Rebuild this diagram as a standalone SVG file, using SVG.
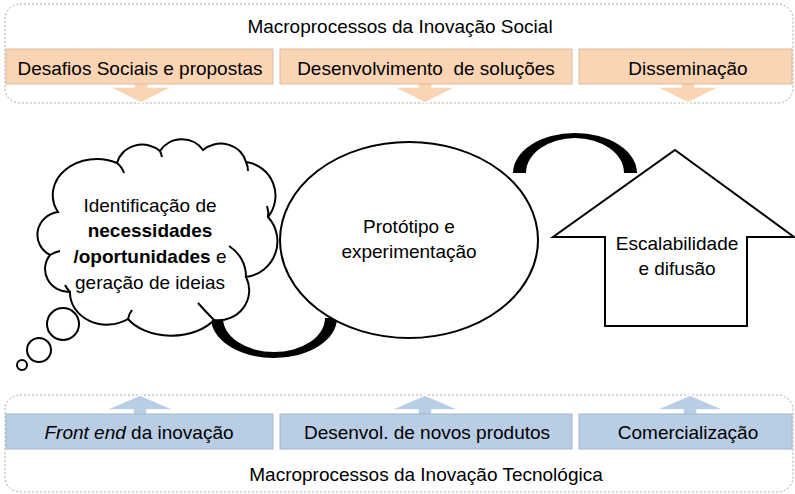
<svg xmlns="http://www.w3.org/2000/svg" width="795" height="494" viewBox="0 0 795 494">
<style>
text{font-family:"Liberation Sans",Arial,sans-serif;font-size:19px;fill:#000}
.c{text-anchor:middle}
.frame{fill:none;stroke:#A6A6A6;stroke-width:1;stroke-dasharray:2 2}
.ob{fill:#FBD4B4;stroke:#D8BCA6;stroke-width:1}
.bb{fill:#B9CDE5;stroke:#A3B6CC;stroke-width:1}
.oa{fill:#FBD4B4;stroke:#fff;stroke-width:1.5}
.ba{fill:#B9CDE5;stroke:#fff;stroke-width:1.5}
.sh{fill:#fff;stroke:#000;stroke-width:2}
.ln{fill:none;stroke:#000;stroke-width:2}
.arc{fill:#000}
</style>

<g id="social">
<rect class="frame" x="5" y="4" width="788" height="99" rx="15"/>
<text class="c" x="400" y="33">Macroprocessos da Inovação Social</text>
</g>
<g id="arrows-top">
<path class="oa" d="M134,78 H148 V87 H173 L141,103 L109,87 H134 Z"/>
<path class="oa" d="M418,78 H432 V87 H457 L425,103 L393,87 H418 Z"/>
<path class="oa" d="M681,78 H695 V87 H720 L688,103 L656,87 H681 Z"/>
</g>
<g id="desafios">
<rect class="ob" x="6" y="49" width="267" height="35"/>
<text class="c" x="140" y="75">Desafios Sociais e propostas</text>
</g>
<g id="desenvolvimento">
<rect class="ob" x="280" y="49" width="292" height="35"/>
<text class="c" x="426" y="75" xml:space="preserve">Desenvolvimento  de soluções</text>
</g>
<g id="disseminacao">
<rect class="ob" x="579" y="49" width="213" height="35"/>
<text class="c" x="688" y="75">Disseminação</text>
</g>

<g id="tecnologica">
<rect class="frame" x="5" y="395" width="788" height="97" rx="15"/>
<text class="c" x="426" y="481">Macroprocessos da Inovação Tecnológica</text>
</g>
<g id="arrows-bottom">
<path class="ba" d="M133,420 H147 V410 H175 L140,395 L105,410 H133 Z"/>
<path class="ba" d="M418,420 H432 V410 H460 L425,395 L390,410 H418 Z"/>
<path class="ba" d="M683,420 H697 V410 H725 L690,395 L655,410 H683 Z"/>
</g>
<g id="frontend">
<rect class="bb" x="6" y="414" width="267" height="35"/>
<text class="c" x="139" y="439"><tspan font-style="italic">Front end</tspan> da inovação</text>
</g>
<g id="desenvol">
<rect class="bb" x="280" y="414" width="292" height="35"/>
<text class="c" x="427" y="439">Desenvol. de novos produtos</text>
</g>
<g id="comercializacao">
<rect class="bb" x="579" y="414" width="213" height="35"/>
<text class="c" x="688" y="439">Comercialização</text>
</g>

<g id="connectors">
<path class="arc" d="M211,318 A63,40 0 0 0 337,318 L325,318 A51,34 0 0 1 223,318 Z"/>
<path class="arc" d="M513,173 A62,40 0 0 1 637,173 L624,173 A49,35 0 0 0 526,173 Z"/>
</g>

<g id="ideias">
<circle class="sh" cx="22" cy="365" r="5"/>
<circle class="sh" cx="39" cy="350" r="12"/>
<circle class="sh" cx="63" cy="324" r="16"/>
<path class="sh" d="M58,212 A44,36 0 0 1 117,163 A26,24 0 0 1 160,151 A25,23 0 0 1 203,150 A26,24 0 0 1 246,162 A34,34 0 0 1 268,217 A36,36 0 0 1 246,277 A31,30 0 0 1 214,320 A50,33 0 0 1 128,319 A37,32 0 0 1 70,292 A24,23 0 0 1 50,255 A24,23 0 0 1 58,212 Z"/>
<path class="ln" d="M117,163 Q122,167 124,173"/>
<path class="ln" d="M160,151 Q161,153 162,157"/>
<path class="ln" d="M246,162 Q248,166 248,171"/>
<path class="ln" d="M268,217 Q269,212 267,206"/>
<path class="ln" d="M246,277 A36,36 0 0 0 229,246"/>
<path class="ln" d="M198,303 Q206,312 214,320"/>
<path class="ln" d="M128,319 Q129,314 132,310"/>
<path class="ln" d="M70,292 Q67,289 65,285"/>
<path class="ln" d="M50,255 Q55,252 60,251"/>
<text class="c" x="150" y="212">Identificação de</text>
<text class="c" x="150" y="237" font-weight="bold">necessidades</text>
<text class="c" x="150" y="263"><tspan font-weight="bold">/oportunidades</tspan> e</text>
<text class="c" x="150" y="289">geração de ideias</text>
</g>

<g id="prototipo">
<ellipse class="sh" cx="409" cy="240" rx="129" ry="98"/>
<text class="c" x="409" y="233">Protótipo e</text>
<text class="c" x="409" y="258">experimentação</text>
</g>

<g id="escalabilidade">
<polygon class="sh" points="675,150 794,237 747,237 747,326 605,326 605,237 553,237"/>
<text class="c" x="677" y="250">Escalabilidade</text>
<text class="c" x="677" y="275">e difusão</text>
</g>
</svg>
